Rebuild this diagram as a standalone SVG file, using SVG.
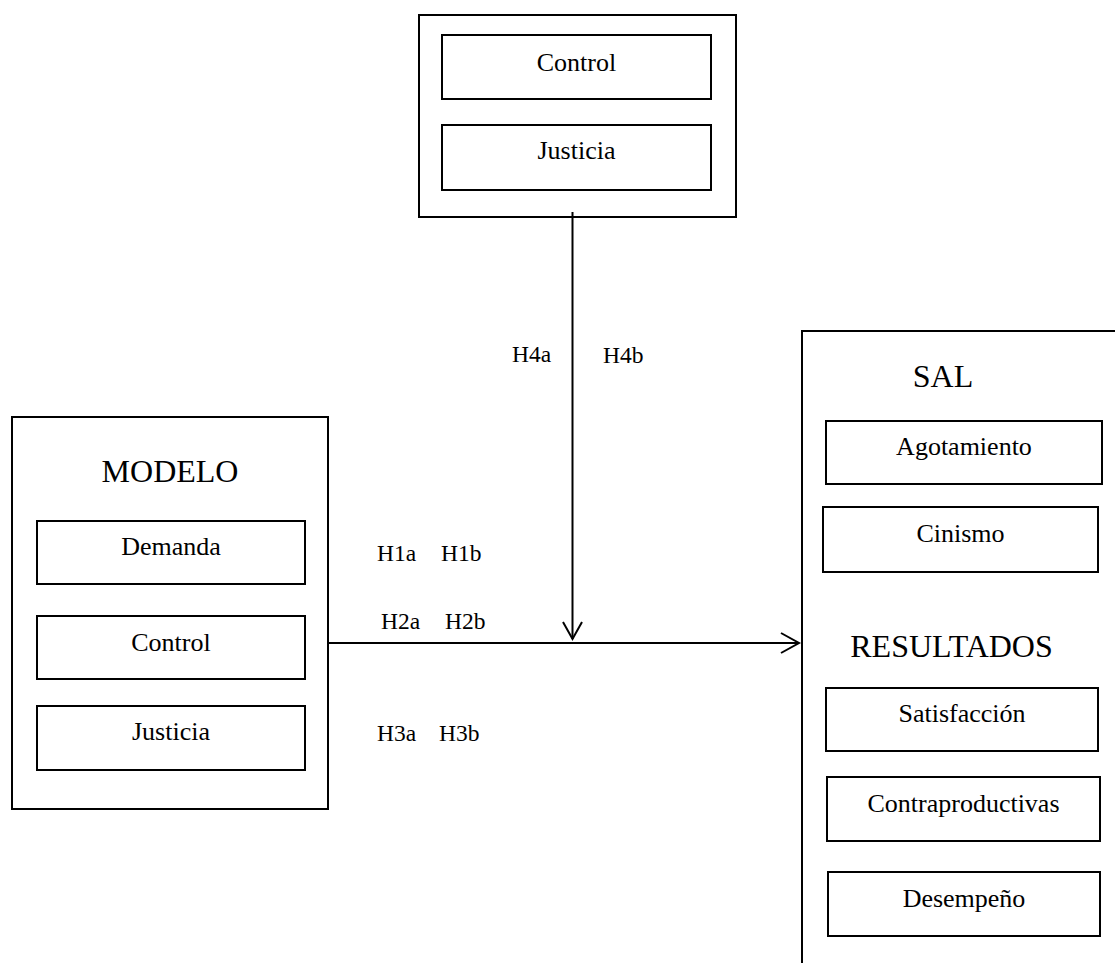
<svg xmlns="http://www.w3.org/2000/svg" width="1115" height="963" viewBox="0 0 1115 963">
<style>
.box{fill:none;stroke:#000;stroke-width:2}
.lbl{font-family:"Liberation Serif",serif;font-size:26px;text-anchor:middle;fill:#000}
.ttl{font-family:"Liberation Serif",serif;font-size:32px;text-anchor:middle;fill:#000}
.h{font-family:"Liberation Serif",serif;font-size:23.5px;fill:#000}
.ln{fill:none;stroke:#000;stroke-width:2}
</style>
<rect width="1115" height="963" fill="#fff"/>
<g id="moderadores">
<rect class="box" x="419" y="15" width="317" height="202"/>
<rect class="box" x="442" y="35" width="269" height="64"/>
<text class="lbl" x="576.5" y="71">Control</text>
<rect class="box" x="442" y="125" width="269" height="65"/>
<text class="lbl" x="576.5" y="159">Justicia</text>
</g>
<g id="modelo">
<rect class="box" x="12" y="417" width="316" height="392"/>
<text class="ttl" x="170" y="482">MODELO</text>
<rect class="box" x="37" y="521" width="268" height="63"/>
<text class="lbl" x="171" y="555">Demanda</text>
<rect class="box" x="37" y="616" width="268" height="63"/>
<text class="lbl" x="171" y="651">Control</text>
<rect class="box" x="37" y="706" width="268" height="64"/>
<text class="lbl" x="171" y="740">Justicia</text>
</g>
<g id="resultados">
<path class="box" d="M802,963 V331 H1115"/>
<text class="ttl" x="943" y="387">SAL</text>
<rect class="box" x="826" y="421" width="276" height="63"/>
<text class="lbl" x="964" y="455">Agotamiento</text>
<rect class="box" x="823" y="507" width="275" height="65"/>
<text class="lbl" x="960.5" y="542">Cinismo</text>
<text class="ttl" x="951.5" y="657">RESULTADOS</text>
<rect class="box" x="826" y="688" width="272" height="63"/>
<text class="lbl" x="962" y="722">Satisfacción</text>
<rect class="box" x="827" y="777" width="273" height="64"/>
<text class="lbl" x="963.5" y="812">Contraproductivas</text>
<rect class="box" x="828" y="872" width="272" height="64"/>
<text class="lbl" x="964" y="907">Desempeño</text>
</g>
<g id="connectors">
<path class="ln" d="M328,643 H799"/>
<path class="ln" d="M781,633 L799,643 L781,653"/>
<path class="ln" d="M572.5,212 V639"/>
<path class="ln" d="M563,622 L572.5,639 L582,622"/>
</g>
<g id="labels">
<text class="h" x="512" y="362">H4a</text>
<text class="h" x="603" y="363">H4b</text>
<text class="h" x="377" y="561">H1a</text>
<text class="h" x="441" y="561">H1b</text>
<text class="h" x="381" y="629">H2a</text>
<text class="h" x="445" y="629">H2b</text>
<text class="h" x="377" y="741">H3a</text>
<text class="h" x="439" y="741">H3b</text>
</g>
</svg>
